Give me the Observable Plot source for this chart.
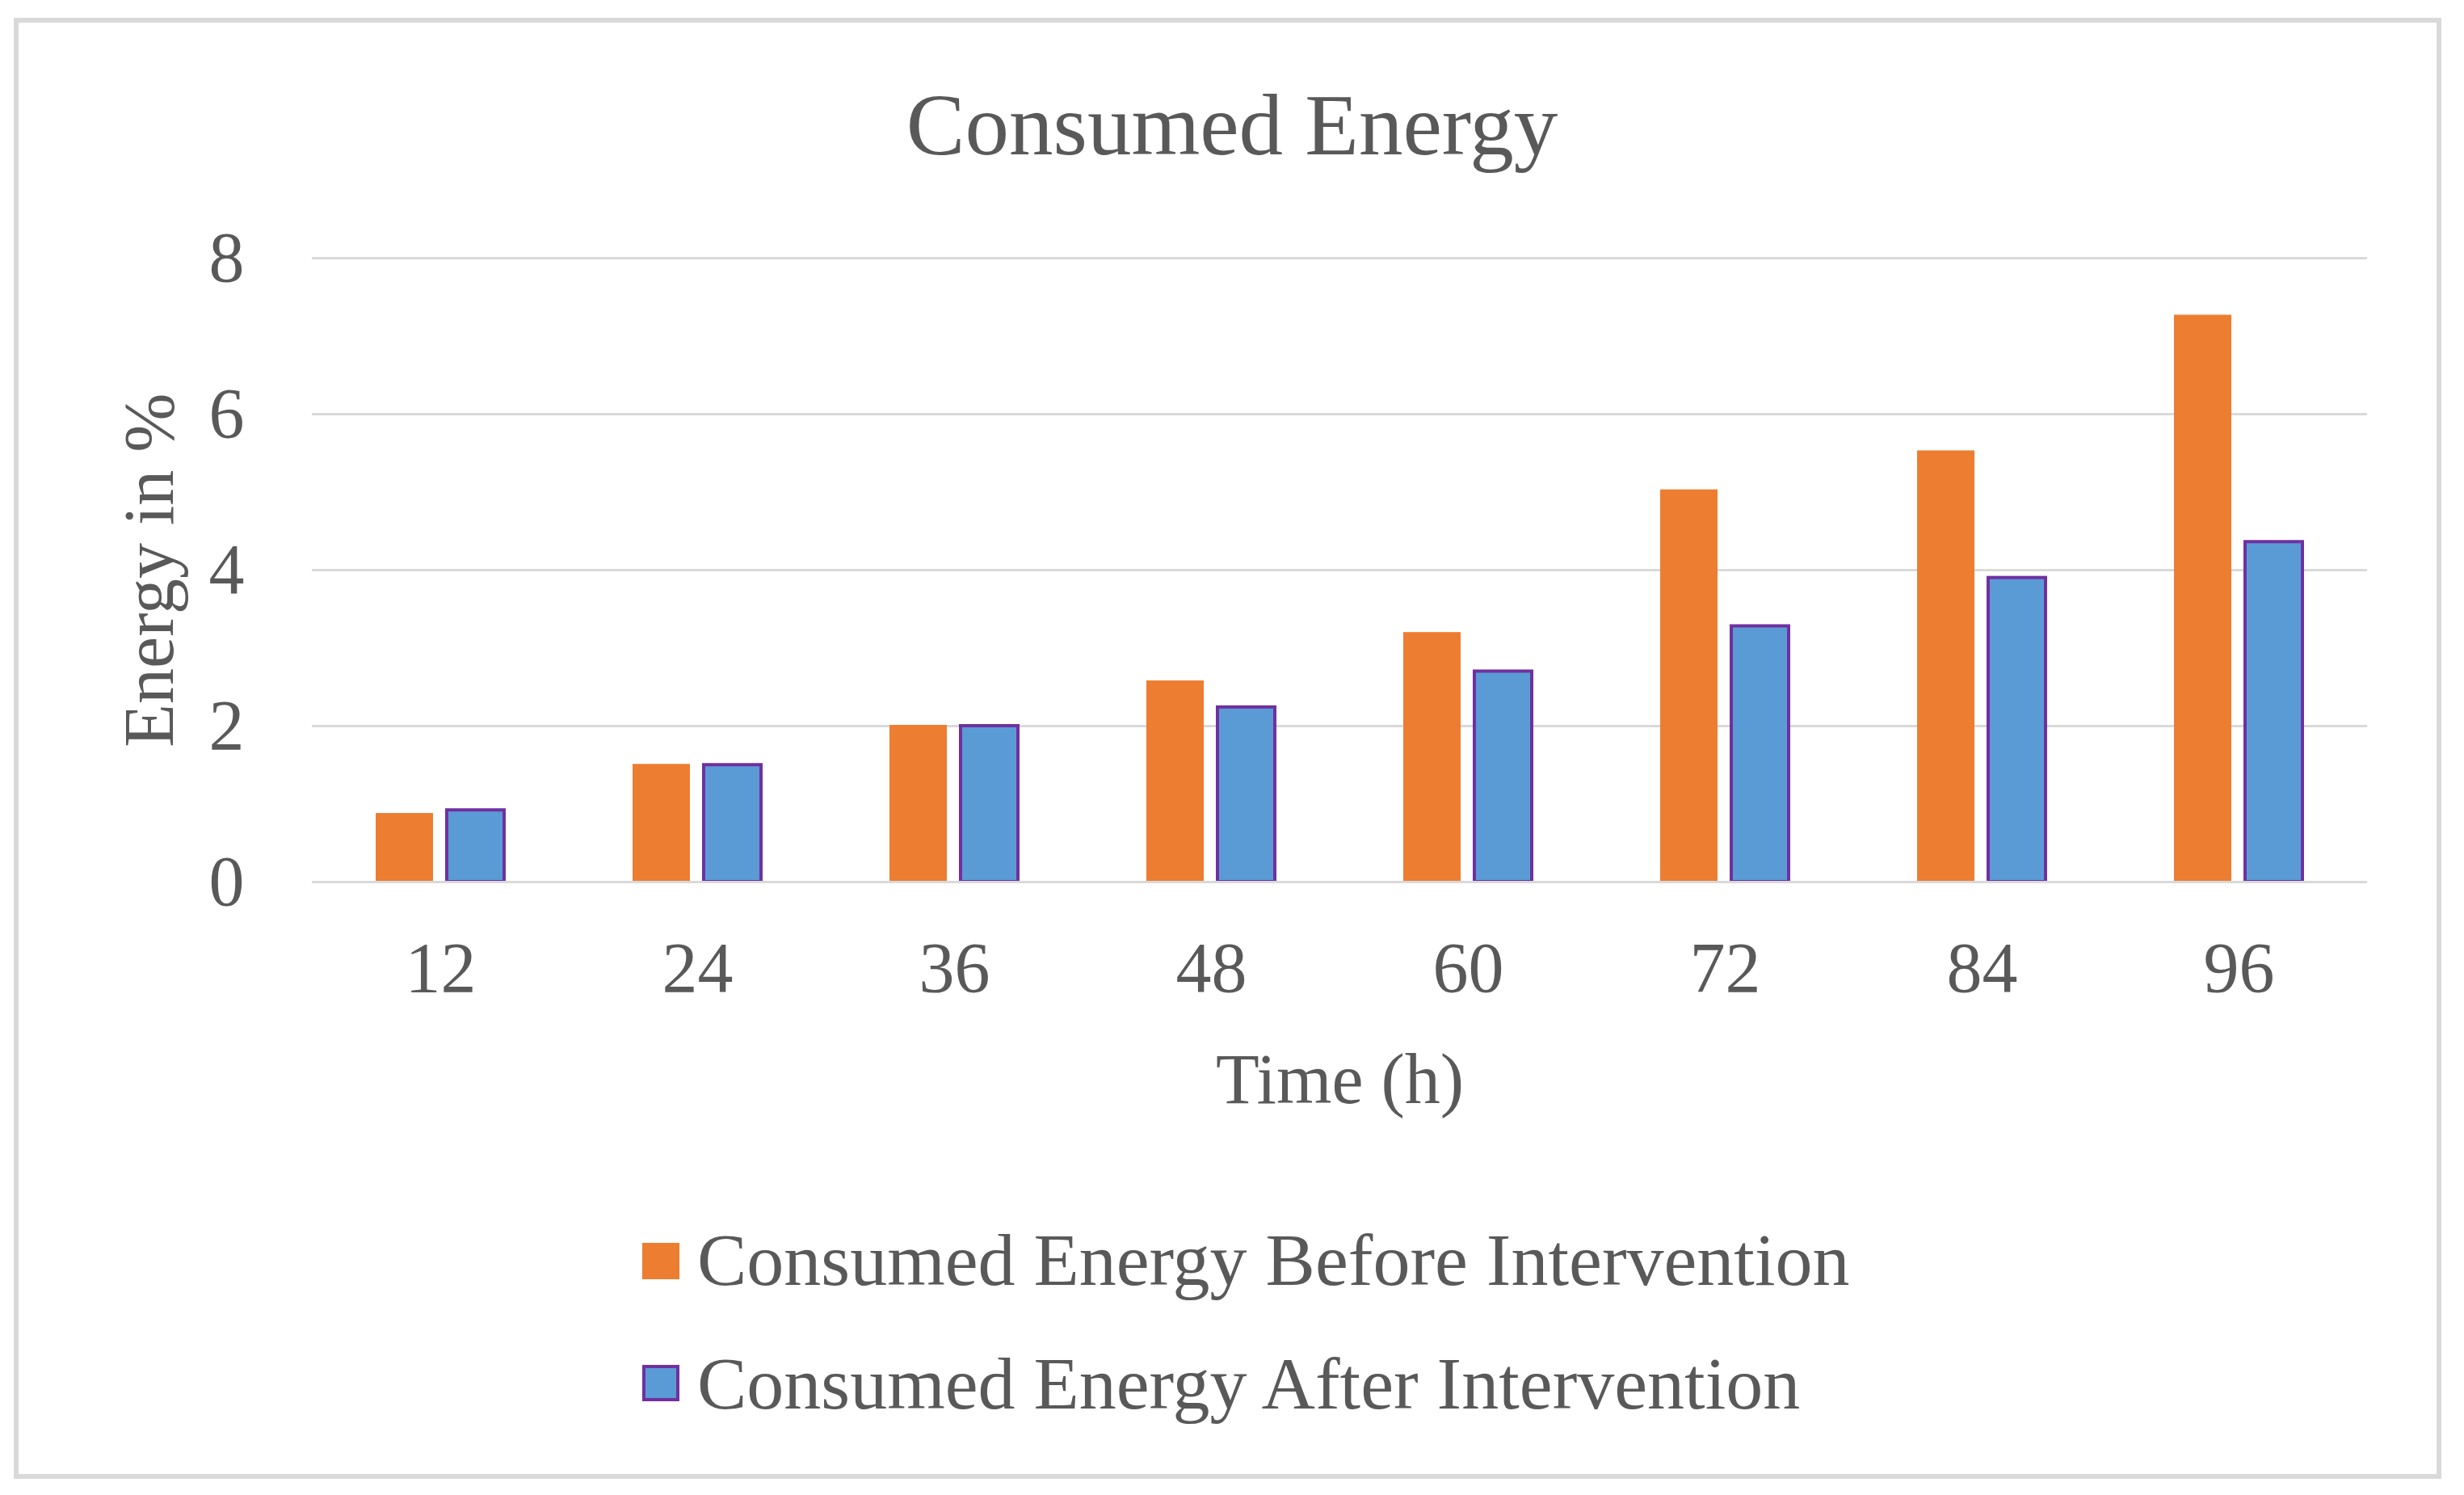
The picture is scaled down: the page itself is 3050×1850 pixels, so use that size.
<!DOCTYPE html>
<html><head><meta charset="utf-8">
<script src="https://cdn.jsdelivr.net/npm/d3@7"></script>
<script src="https://cdn.jsdelivr.net/npm/@observablehq/plot@0.6"></script>
<style>
html,body{margin:0;padding:0;background:#fff;}
#fig{position:relative;width:3050px;height:1850px;background:#fff;font-family:"Liberation Serif","Times New Roman",serif;color:#595959;overflow:hidden}
#frame{position:absolute;left:17px;top:22px;width:3005px;height:1808px;box-sizing:border-box;border:6px solid #d9d9d9}
#title{position:absolute;left:0;width:3050px;top:100px;text-align:center;font-size:109px;line-height:1}
#chart{position:absolute;left:0;top:0}
.lg{position:absolute;left:863px;font-size:92px;line-height:1;white-space:nowrap}
.sw{position:absolute;left:795px;width:46px;height:45px;box-sizing:border-box}
</style></head><body>
<div id="fig">
 <div id="frame"></div>
 <div id="title">Consumed Energy</div>
 <div id="chart"></div>
 <div id="legend"></div>
</div>
<script>
const times = [12, 24, 36, 48, 60, 72, 84, 96];
const before = [0.88, 1.51, 2.01, 2.58, 3.20, 5.03, 5.53, 7.27];
const after = [0.92, 1.50, 2.00, 2.24, 2.70, 3.28, 3.90, 4.36];
const seriesNames = ["Consumed Energy Before Intervention", "Consumed Energy After Intervention"];
const yTicks = [0, 2, 4, 6, 8];
const fills = ["#ED7D31", "#5B9BD5"];
const edge = "#7030A0";

const dataBefore = times.map((t, i) => ({time: t, series: seriesNames[0], value: before[i]}));
const dataAfter = times.map((t, i) => ({time: t, series: seriesNames[1], value: after[i]}));

const chart = Plot.plot({
  width: 3050, height: 1480,
  marginTop: 319, marginBottom: 389, marginLeft: 383, marginRight: 117,
  style: {fontFamily: '"Liberation Serif","Times New Roman",serif', fontSize: "88px", color: "#595959", background: "transparent"},
  fx: {domain: times, padding: 0},
  x: {domain: seriesNames, paddingInner: 0.19, paddingOuter: 0.886, axis: null},
  y: {domain: [0, 8]},
  marks: [
    Plot.gridY(yTicks, {stroke: "#d9d9d9", strokeOpacity: 1, strokeWidth: 3}),
    Plot.axisY(yTicks, {tickSize: 0, tickPadding: 84, fontSize: 88, tickFormat: d3.format("d"), label: "Energy in %", labelArrow: "none", labelAnchor: "center", labelOffset: 235}),
    Plot.axisFx({anchor: "bottom", tickSize: 0, tickPadding: 73, fontSize: 88, label: "Time (h)", labelArrow: "none", labelAnchor: "center", labelOffset: 273}),
    Plot.barY(dataBefore, {fx: "time", x: "series", y: "value", fill: fills[0]}),
    Plot.barY(dataAfter, {fx: "time", x: "series", y: "value", fill: fills[1], stroke: edge, strokeWidth: 4}),
    Plot.ruleY([0], {stroke: "#d9d9d9", strokeWidth: 3})
  ]
});
document.getElementById("chart").appendChild(chart);

const legend = document.getElementById("legend");
const rows = [{top: 1513, sw: 1538}, {top: 1666, sw: 1689}];
seriesNames.forEach((name, i) => {
  const sw = document.createElement("div");
  sw.className = "sw";
  sw.style.top = rows[i].sw + "px";
  sw.style.background = fills[i];
  if (i === 1) sw.style.border = "4px solid " + edge;
  legend.appendChild(sw);
  const tx = document.createElement("div");
  tx.className = "lg";
  tx.style.top = rows[i].top + "px";
  tx.textContent = name;
  legend.appendChild(tx);
});
</script>
</body></html>
